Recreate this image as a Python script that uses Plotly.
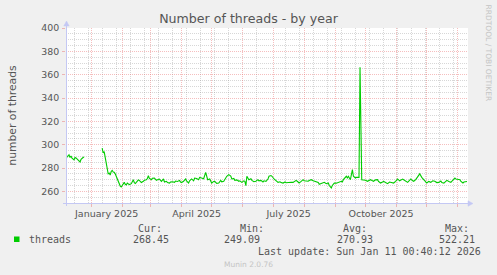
import plotly.graph_objects as go

# ---------------- data ----------------
dates = [
    "2024-12-07", "2024-12-08", "2024-12-10", "2024-12-11", "2024-12-12", "2024-12-13",
    "2024-12-15", "2024-12-16", "2024-12-17", "2024-12-19", "2024-12-21", "2024-12-22",
    "2024-12-23", "2024-12-24", "2024-12-25", "2025-01-01",
    "2025-01-12", "2025-01-13", "2025-01-14", "2025-01-15", "2025-01-16", "2025-01-17",
    "2025-01-18", "2025-01-19", "2025-01-20", "2025-01-21", "2025-01-22", "2025-01-23",
    "2025-01-24", "2025-01-25", "2025-01-26", "2025-01-27", "2025-01-28", "2025-01-29",
    "2025-01-30", "2025-01-31", "2025-02-01", "2025-02-02", "2025-02-03", "2025-02-04",
    "2025-02-05", "2025-02-06", "2025-02-07", "2025-02-08", "2025-02-10", "2025-02-11",
    "2025-02-12", "2025-02-13", "2025-02-14", "2025-02-15", "2025-02-17", "2025-02-18",
    "2025-02-19", "2025-02-20", "2025-02-22", "2025-02-23", "2025-02-25", "2025-02-26",
    "2025-02-27", "2025-02-28", "2025-03-02", "2025-03-03", "2025-03-05", "2025-03-06",
    "2025-03-07", "2025-03-08", "2025-03-10", "2025-03-12", "2025-03-13", "2025-03-14",
    "2025-03-15", "2025-03-17", "2025-03-18", "2025-03-20", "2025-03-21", "2025-03-23",
    "2025-03-25", "2025-03-26", "2025-03-28", "2025-03-30", "2025-03-31", "2025-04-01",
    "2025-04-03", "2025-04-05", "2025-04-06", "2025-04-08", "2025-04-09", "2025-04-11",
    "2025-04-13", "2025-04-14", "2025-04-16", "2025-04-18", "2025-04-19", "2025-04-21",
    "2025-04-23", "2025-04-25", "2025-04-26", "2025-04-27", "2025-04-29", "2025-05-01",
    "2025-05-03", "2025-05-04", "2025-05-06", "2025-05-08", "2025-05-10", "2025-05-11",
    "2025-05-13", "2025-05-14", "2025-05-16", "2025-05-18", "2025-05-20", "2025-05-21",
    "2025-05-23", "2025-05-24", "2025-05-26", "2025-05-28", "2025-05-29", "2025-05-31",
    "2025-06-02", "2025-06-03", "2025-06-04", "2025-06-05", "2025-06-07", "2025-06-09",
    "2025-06-10", "2025-06-12", "2025-06-14", "2025-06-16", "2025-06-17", "2025-06-19",
    "2025-06-21", "2025-06-22", "2025-06-24", "2025-06-26", "2025-06-27", "2025-06-29",
    "2025-06-30", "2025-07-02", "2025-07-04", "2025-07-06", "2025-07-08", "2025-07-09",
    "2025-07-11", "2025-07-13", "2025-07-14", "2025-07-16", "2025-07-18", "2025-07-19",
    "2025-07-21", "2025-07-22", "2025-07-24", "2025-07-26", "2025-07-27", "2025-07-29",
    "2025-07-31", "2025-08-01", "2025-08-03", "2025-08-05", "2025-08-06", "2025-08-08",
    "2025-08-10", "2025-08-11", "2025-08-13", "2025-08-15", "2025-08-16", "2025-08-18",
    "2025-08-20", "2025-08-21", "2025-08-23", "2025-08-25", "2025-08-26", "2025-08-28",
    "2025-08-29", "2025-08-31", "2025-09-02", "2025-09-04", "2025-09-05", "2025-09-07",
    "2025-09-08", "2025-09-09", "2025-09-12", "2025-09-13", "2025-09-14", "2025-09-16",
    "2025-09-18", "2025-09-19", "2025-09-21", "2025-09-22", "2025-09-24 14:00",
    "2025-09-25 14:00", "2025-09-27 07:00", "2025-09-29", "2025-10-01", "2025-10-03",
    "2025-10-05", "2025-10-06", "2025-10-08", "2025-10-09", "2025-10-11", "2025-10-13",
    "2025-10-14", "2025-10-16", "2025-10-18", "2025-10-19", "2025-10-21", "2025-10-23",
    "2025-10-25", "2025-10-26", "2025-10-28", "2025-10-29", "2025-10-31", "2025-11-02",
    "2025-11-04", "2025-11-05", "2025-11-07", "2025-11-08", "2025-11-10", "2025-11-12",
    "2025-11-14", "2025-11-15", "2025-11-17", "2025-11-18", "2025-11-20", "2025-11-21",
    "2025-11-23", "2025-11-24", "2025-11-26", "2025-11-28", "2025-11-29", "2025-12-01",
    "2025-12-03", "2025-12-05", "2025-12-07", "2025-12-09", "2025-12-11", "2025-12-13",
    "2025-12-15", "2025-12-16", "2025-12-18", "2025-12-20", "2025-12-21", "2025-12-23",
    "2025-12-25", "2025-12-27", "2025-12-29", "2025-12-30", "2026-01-01", "2026-01-03",
    "2026-01-04", "2026-01-06", "2026-01-07", "2026-01-09", "2026-01-10",
]
threads = [
    287.0, 289.5, 291.4, 289.0, 290.3, 288.5,
    287.0, 289.0, 288.6, 286.6, 285.2, 287.5,
    288.6, 289.0, 289.5, None,
    297.0, 292.9, 294.0, 289.0, 284.3, 277.1,
    275.0, 275.7, 274.0, 277.0, 278.0, 276.5,
    276.3, 275.0, 272.9, 269.5, 267.1, 265.5,
    264.5, 263.7, 265.5, 267.0, 267.7, 266.0,
    265.5, 267.1, 266.5, 265.8, 266.6, 268.5,
    270.0, 267.5, 266.8, 267.7, 269.8, 269.4,
    268.0, 267.5, 268.6, 269.5, 270.0, 271.0,
    273.4, 271.0, 270.0, 271.2, 271.4, 270.2,
    269.5, 270.0, 270.5, 268.6, 269.8, 270.6,
    268.0, 268.6, 267.5, 267.1, 268.0, 268.2,
    267.7, 268.8, 268.5, 269.4, 268.0, 267.5,
    268.6, 270.6, 269.0, 267.1, 269.0, 270.6,
    269.0, 271.4, 271.0, 270.0, 272.0, 271.4,
    270.8, 276.3, 272.0, 270.0, 270.6, 267.1,
    268.5, 268.6, 266.8, 267.1, 269.4, 268.2,
    268.6, 270.5, 272.9, 274.3, 273.0, 270.6,
    271.0, 269.4, 269.8, 268.6, 269.0, 267.7,
    269.0, 268.6, 264.9, 272.9, 270.0, 270.8,
    269.4, 268.2, 268.6, 270.0, 269.0, 269.4,
    268.0, 269.0, 268.6, 270.5, 272.9, 273.5,
    272.9, 270.6, 269.0, 267.7, 268.2, 267.5,
    267.1, 268.0, 267.4, 267.7, 268.3, 267.8,
    267.7, 268.4, 269.4, 268.0, 267.1, 268.5,
    270.0, 269.0, 268.8, 268.6, 269.2, 270.0,
    269.0, 268.6, 268.0, 267.7, 266.0, 266.6,
    267.5, 267.7, 266.5, 267.1, 265.0, 262.9,
    265.0, 267.1, 267.0, 267.7, 268.5, 268.6,
    268.0, 270.0, 272.9, 271.5, 272.9, 270.0,
    278.6, 272.9, 271.4, 272.0, 272.0,
    366.3, 270.0, 270.0, 269.5, 268.6,
    269.5, 270.0, 269.0, 268.6, 269.8, 270.0,
    268.5, 267.1, 268.0, 268.6, 267.5, 266.6,
    268.0, 267.7, 266.8, 267.1, 268.5, 270.6,
    269.0, 269.4, 270.5, 270.0, 268.5, 267.7,
    269.5, 270.6, 269.0, 268.6, 270.0, 271.4,
    273.0, 275.0, 272.0, 270.0, 268.5, 267.1,
    268.5, 267.7, 269.0, 268.6, 267.5, 267.7,
    268.8, 267.5, 267.1, 268.5, 269.4, 268.5,
    267.7, 269.5, 271.4, 270.5, 270.0, 270.0,
    268.5, 267.1, 268.0, 268.6, 268.45,
]

x_start = "2024-12-07 00:40:12"
x_end = "2026-01-11 00:40:12"
y_min, y_max = 250, 400

month_starts = [
    "2025-01-01", "2025-02-01", "2025-03-01", "2025-04-01", "2025-05-01",
    "2025-06-01", "2025-07-01", "2025-08-01", "2025-09-01", "2025-10-01",
    "2025-11-01", "2025-12-01", "2026-01-01",
]
minor_weeks = [
    "2024-12-15", "2024-12-29", "2025-01-12", "2025-01-26", "2025-02-09",
    "2025-02-23", "2025-03-09", "2025-03-23", "2025-04-06", "2025-04-20",
    "2025-05-04", "2025-05-18", "2025-06-15", "2025-07-13", "2025-07-27",
    "2025-08-10", "2025-08-24", "2025-09-07", "2025-09-21", "2025-10-05",
    "2025-10-19", "2025-11-02", "2025-11-16", "2025-11-30", "2025-12-14",
    "2025-12-28",
]
label_dates = ["2025-01-16 12:00", "2025-04-16", "2025-07-16 12:00", "2025-10-16 12:00"]
label_text = ["January 2025", "April 2025", "July 2025", "October 2025"]

series_name = "threads"
stat_names = ["Cur:", "Min:", "Avg:", "Max:"]
stat_values = ["268.45", "249.09", "270.93", "522.21"]
last_update = "Last update: Sun Jan 11 00:40:12 2026"
title_text = "Number of threads - by year"
y_title = "number of threads"
footer = "Munin 2.0.76"
side_text = "RRDTOOL / TOBI OETIKER"

# ---------------- layout helpers ----------------
W, H = 497, 275
L, R, T, B = 66, 29, 28, 72
PW, PH = W - L - R, H - T - B


def px(x):
    return (x - L) / PW


def py(y):
    return (H - B - y) / PH


TXT = "#555555"
GREEN = "#00CC00"
AXIS = "#C4C8F4"
MGRID = "rgba(230,100,100,0.42)"
GRID = "rgba(150,150,150,0.38)"

fig = go.Figure()
fig.add_trace(go.Scatter(
    x=dates, y=threads, mode="lines", name=series_name,
    line=dict(color=GREEN, width=1.1), connectgaps=False,
    showlegend=False, hoverinfo="skip",
))
# dummy trace to activate label axis
fig.add_trace(go.Scatter(x=[], y=[], xaxis="x2", yaxis="y", showlegend=False,
                         hoverinfo="skip"))

mono = "DejaVu Sans Mono"
sans = "DejaVu Sans"

annotations = []
header_right = [163.5, 265.5, 368.5, 470.5]
value_right = [170.5, 262, 374.5, 477]
for name, xr in zip(stat_names, header_right):
    annotations.append(dict(text=name, x=px(xr), y=py(228), xref="paper", yref="paper",
                            xanchor="right", yanchor="middle", showarrow=False,
                            font=dict(family=mono, size=10, color=TXT)))
for val, xr in zip(stat_values, value_right):
    annotations.append(dict(text=val, x=px(xr), y=py(239.5), xref="paper", yref="paper",
                            xanchor="right", yanchor="middle", showarrow=False,
                            font=dict(family=mono, size=10, color=TXT)))
annotations.append(dict(text=series_name, x=px(26.5), y=py(239.5), xref="paper", yref="paper",
                        xanchor="left", yanchor="middle", showarrow=False,
                        font=dict(family=mono, size=10, color=TXT)))
annotations.append(dict(text=last_update, x=px(482.5), y=py(251), xref="paper", yref="paper",
                        xanchor="right", yanchor="middle", showarrow=False,
                        font=dict(family=mono, size=10, color=TXT)))
annotations.append(dict(text=footer, x=px(248), y=py(264.5), xref="paper", yref="paper",
                        xanchor="center", yanchor="middle", showarrow=False,
                        font=dict(family=sans, size=7.5, color="#C4C4C4")))
annotations.append(dict(text=side_text, x=px(488.5), y=py(53), xref="paper", yref="paper",
                        xanchor="center", yanchor="middle", showarrow=False, textangle=90,
                        font=dict(family=sans, size=7.5, color="#C4C4C4")))

shapes = [
    # legend colour box
    dict(type="rect", xref="paper", yref="paper", x0=px(14), x1=px(19.5),
         y0=py(242), y1=py(236.5), fillcolor=GREEN, line=dict(width=0)),
    # y axis line + arrow
    dict(type="line", xref="paper", yref="paper", x0=px(66.5), x1=px(66.5),
         y0=py(206), y1=py(24), line=dict(color=AXIS, width=1)),
    dict(type="path", xref="paper", yref="paper",
         path=f"M {px(63.8)} {py(26)} L {px(69.2)} {py(26)} L {px(66.5)} {py(21)} Z",
         fillcolor=AXIS, line=dict(color=AXIS, width=0.5)),
    # x axis line + arrow
    dict(type="line", xref="paper", yref="paper", x0=px(63), x1=px(470),
         y0=py(203.5), y1=py(203.5), line=dict(color=AXIS, width=1)),
    dict(type="path", xref="paper", yref="paper",
         path=f"M {px(468)} {py(200.8)} L {px(468)} {py(206.2)} L {px(473)} {py(203.5)} Z",
         fillcolor=AXIS, line=dict(color=AXIS, width=0.5)),
]

fig.update_layout(
    width=W, height=H,
    margin=dict(l=L, r=R, t=T, b=B, pad=0),
    paper_bgcolor="#F0F0F0", plot_bgcolor="#FFFFFF",
    title=dict(text=title_text, x=0.5, xanchor="center", y=1 - 18.5 / H, yanchor="middle",
               font=dict(family=sans, size=12.6, color=TXT)),
    xaxis=dict(
        type="date", range=[x_start, x_end], tickmode="array", tickvals=month_starts,
        showticklabels=False, ticks="outside", ticklen=3, tickcolor=MGRID,
        showgrid=True, gridcolor=MGRID, griddash="1px,1px", gridwidth=1,
        minor=dict(tickmode="array", tickvals=minor_weeks, showgrid=True,
                   gridcolor=GRID, griddash="1px,1px", gridwidth=1, ticks=""),
        showline=False, zeroline=False, fixedrange=True,
    ),
    xaxis2=dict(
        type="date", range=[x_start, x_end], overlaying="x", side="bottom",
        tickmode="array", tickvals=label_dates, ticktext=label_text,
        showgrid=False, ticks="", showline=False, zeroline=False,
        tickfont=dict(family=sans, size=9.5, color=TXT), ticklabelstandoff=3,
    ),
    yaxis=dict(
        range=[y_min, y_max], tick0=0, dtick=20, showgrid=True, gridcolor=MGRID,
        griddash="1px,1px", ticks="outside", ticklen=3, tickcolor=MGRID,
        minor=dict(dtick=5, showgrid=True, gridcolor=GRID, griddash="1px,1px", ticks=""),
        tickfont=dict(family=sans, size=9.4, color=TXT), showline=False, zeroline=False,
        title=dict(text=y_title, font=dict(family=sans, size=10.8, color=TXT), standoff=22),
        ticklabelstandoff=1,
    ),
    annotations=annotations,
    shapes=shapes,
)

fig.write_html("out.html")
